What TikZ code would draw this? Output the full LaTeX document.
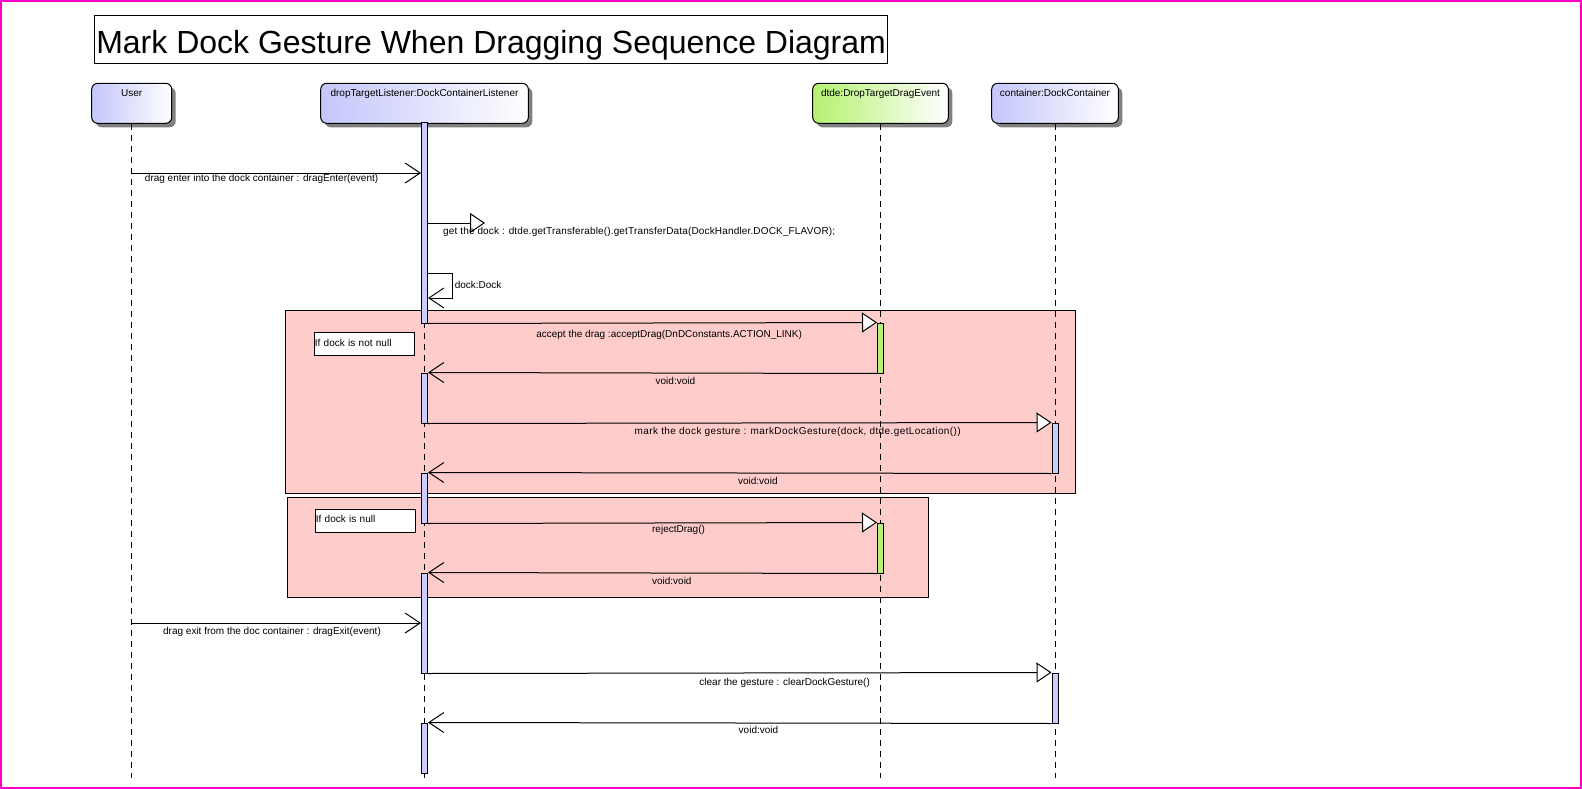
\documentclass[tikz,border=0pt]{standalone}
\usepackage{fontspec}
\setmainfont{Liberation Sans}
\usepackage{tikz}
\usetikzlibrary{arrows.meta, shadows}
\definecolor{hdblue}{RGB}{196,198,250}
\definecolor{hdgreen}{RGB}{180,242,112}
\definecolor{actblue}{RGB}{204,204,255}
\definecolor{actgreen}{RGB}{184,240,120}
\definecolor{fragpink}{RGB}{255,204,204}
\definecolor{shadowgray}{RGB}{128,128,128}
\definecolor{framemag}{RGB}{255,0,200}
\tikzstyle{head} = [draw, rounded corners=6pt, minimum height=40pt, inner ysep=0pt, text height=13.2pt, text depth=26.8pt, font=\fontsize{10}{12}\selectfont, drop shadow={shadow xshift=4pt, shadow yshift=-4pt, fill=shadowgray, opacity=1}]
\tikzstyle{actbar} = [draw, minimum width=6pt, inner sep=0pt]
\tikzstyle{lifeline} = [dash pattern=on 6pt off 5pt]
\tikzstyle{call} = [-{Triangle[length=15pt,width=20pt,fill=white]}]
\tikzstyle{reply} = [-{Straight Barb[length=15pt,width=20pt]}]
\tikzstyle{msg} = [font=\fontsize{10}{12}\selectfont, anchor=base, inner sep=0pt]
\tikzstyle{frag} = [draw, fill=fragpink]
\tikzstyle{note} = [draw, fill=white, anchor=north west, inner sep=0pt, text width=100pt, minimum height=23pt, align=left, font=\fontsize{10}{12}\selectfont]

\begin{document}
\begin{tikzpicture}[x=1pt, y=-1pt, line width=1pt]
\useasboundingbox (0,0) rectangle (1582,789);
\draw[framemag, line width=2pt] (1,1) rectangle (1581,788);

\node[draw, anchor=north west, minimum width=791.7pt, minimum height=48.3pt, inner xsep=1.5pt, inner ysep=0pt, text height=38.3pt, text depth=10pt, font=\fontsize{32}{38}\selectfont] (title) at (94.3,15) {Mark Dock Gesture When Dragging Sequence Diagram};

\draw[frag] (285.3,310) rectangle (1075.7,493.3);
\draw[frag] (287.3,497.3) rectangle (928.2,597.3);
\node[note, text height=13.4pt, text depth=9.6pt] (notnull) at (314.3,332.3) {If dock is not null};
\node[note, text height=13pt, text depth=10pt] (isnull) at (315.3,509.3) {If dock is null};

\node[head, left color=hdblue, right color=white, minimum width=80pt] (user) at (131.7,103.3) {User};
\node[head, left color=hdblue, right color=white, minimum width=207.6pt] (lst) at (424.5,103.3) {dropTargetListener:DockContainerListener};
\node[head, left color=hdgreen, right color=white, minimum width=135.6pt] (dtde) at (880.5,103.3) {dtde:DropTargetDragEvent};
\node[head, left color=hdblue, right color=white, minimum width=126.6pt] (cont) at (1055,103.3) {container:DockContainer};

\coordinate (bot) at (0,778);
\draw[lifeline] (user.south) -- (user.south |- bot);
\draw[lifeline] (lst.south) -- (lst.south |- bot);
\draw[lifeline] (dtde.south) -- (dtde.south |- bot);
\draw[lifeline] (cont.south) -- (cont.south |- bot);

\node[actbar, fill=actblue, minimum height=200pt] (a1) at (424.5,223) {};
\node[actbar, fill=actblue, minimum height=50pt] (a2) at (424.5,398) {};
\node[actbar, fill=actblue, minimum height=50pt] (a3) at (424.5,498) {};
\node[actbar, fill=actblue, minimum height=100pt] (a4) at (424.5,623) {};
\node[actbar, fill=actblue, minimum height=50pt] (a5) at (424.5,748) {};
\node[actbar, fill=actgreen, minimum height=50pt] (g1) at (880.5,348) {};
\node[actbar, fill=actgreen, minimum height=50pt] (g2) at (880.5,548) {};
\node[actbar, fill=actblue, minimum height=50pt] (c1) at (1055,448) {};
\node[actbar, fill=actblue, minimum height=50pt] (c2) at (1055,698) {};

\coordinate (uenter) at (131.7,173);
\coordinate (gd) at (485,223);
\coordinate (selftop) at (452.7,273);
\coordinate (selfbot) at (452.7,298);
\coordinate (uexit) at (131.7,623);

\draw[reply] (uenter) -- node[msg, pos=.449, yshift=-8pt] {drag enter into the dock container : dragEnter(event)} (uenter -| a1.west);
\draw[call] (gd -| a1.east) -- node[msg, anchor=base west, pos=0, xshift=14.7pt, yshift=-11.5pt] {\addfontfeature{LetterSpace=1.6}get the dock : dtde.getTransferable().getTransferData(DockHandler.DOCK\_FLAVOR);} (gd);
\draw[reply] (selftop -| a1.east) -- (selftop) node[msg, anchor=base west, xshift=1.6pt, yshift=-15pt] {dock:Dock} -- (selfbot) -- (selfbot -| a1.east);
\draw[call] (a1.south east) -- node[msg, pos=.537, yshift=-15pt] {accept the drag :acceptDrag(DnDConstants.ACTION\_LINK)} (g1.north west);
\draw[reply] (g1.south west) -- node[msg, pos=.449, yshift=-11pt] {void:void} (a2.north east);
\draw[call] (a2.south east) -- node[msg, pos=.593, yshift=-12pt] {\addfontfeature{LetterSpace=4}mark the dock gesture : markDockGesture(dock, dtde.getLocation())} (c1.north west);
\draw[reply] (c1.south west) -- node[msg, pos=.471, yshift=-11pt] {void:void} (a3.north east);
\draw[call] (a3.south east) -- node[msg, pos=.558, yshift=-10pt] {rejectDrag()} (g2.north west);
\draw[reply] (g2.south west) -- node[msg, pos=.457, yshift=-11pt] {void:void} (a4.north east);
\draw[reply] (uexit) -- node[msg, pos=.485, yshift=-11pt] {drag exit from the doc container : dragExit(event)} (uexit -| a4.west);
\draw[call] (a4.south east) -- node[msg, pos=.572, yshift=-13pt] {clear the gesture : clearDockGesture()} (c2.north west);
\draw[reply] (c2.south west) -- node[msg, pos=.47, yshift=-10pt] {void:void} (a5.north east);
\end{tikzpicture}
\end{document}
